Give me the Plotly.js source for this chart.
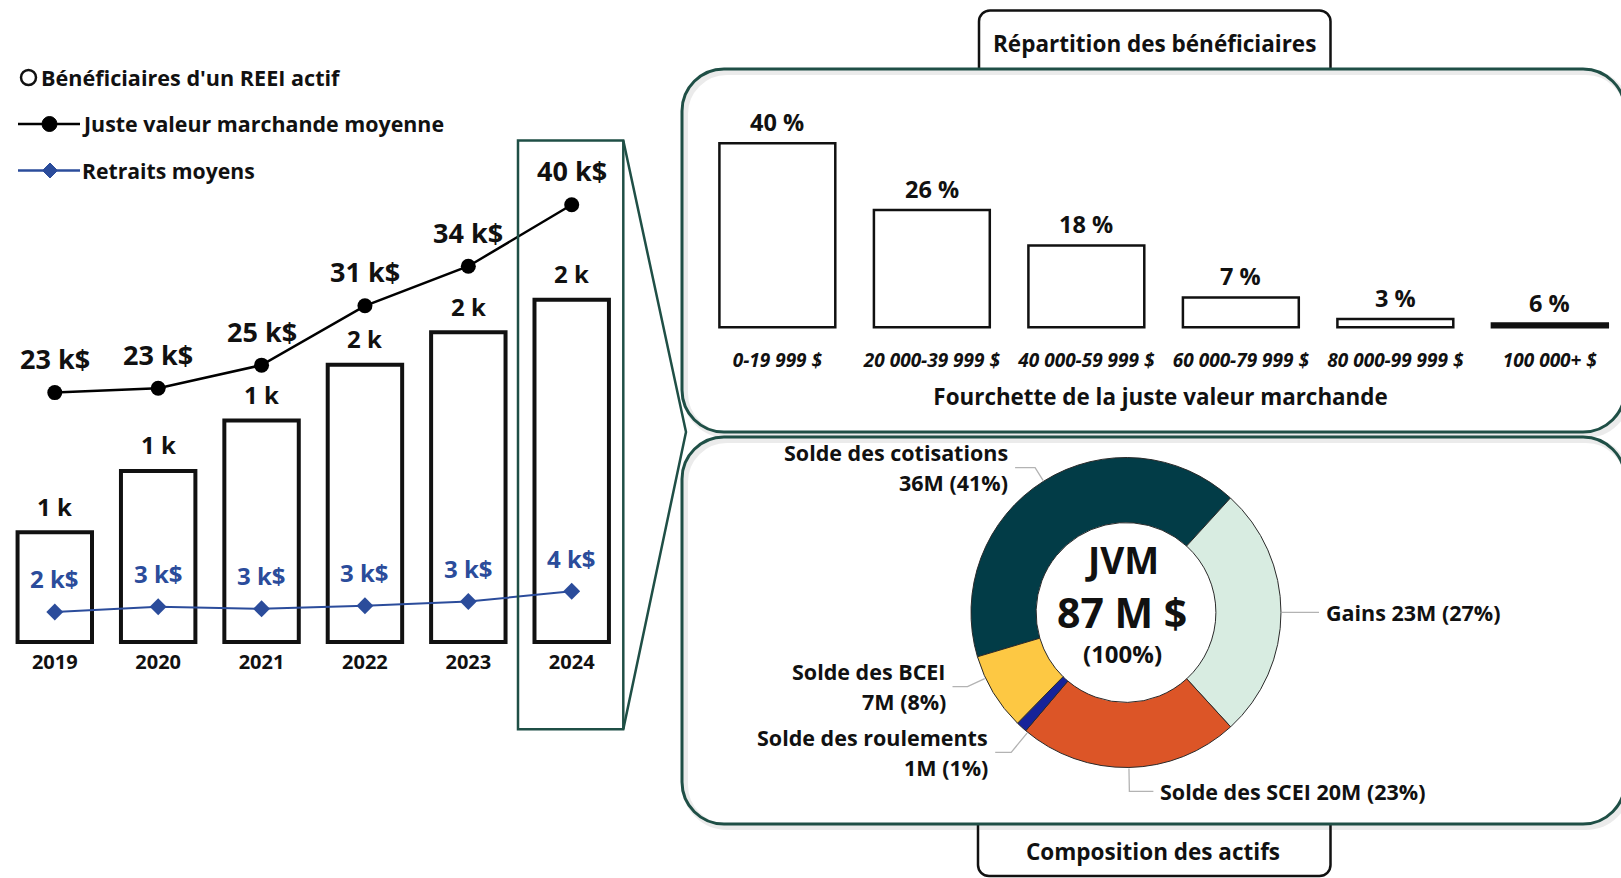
<!DOCTYPE html>
<html><head><meta charset="utf-8">
<script src="https://cdn.plot.ly/plotly-3.0.1.min.js"></script>
<style>html,body{margin:0;padding:0;background:#fff}#chart{width:1621px;height:878px}</style>
</head><body><div id="chart"></div>
<script>
// ---------- data ----------
const years = ['2019', '2020', '2021', '2022', '2023', '2024'];
const beneficiaries = [610, 950, 1230, 1540, 1720, 1900];
const beneficiaryLabels = ['1 k', '1 k', '1 k', '2 k', '2 k', '2 k'];
const avgFMV = [22.7, 23.1, 25.2, 30.6, 34.2, 39.8];
const avgFMVLabels = ['23 k$', '23 k$', '25 k$', '31 k$', '34 k$', '40 k$'];
const avgWithdrawals = [2.4, 2.68, 2.57, 2.73, 2.96, 3.51];
const avgWithdrawalLabels = ['2 k$', '3 k$', '3 k$', '3 k$', '3 k$', '4 k$'];
const seriesNames = ["Bénéficiaires d'un REEI actif", 'Juste valeur marchande moyenne', 'Retraits moyens'];

const fmvRanges = ['0-19 999 $', '20 000-39 999 $', '40 000-59 999 $', '60 000-79 999 $', '80 000-99 999 $', '100 000+ $'];
const rangeShares = [40, 25.5, 17.8, 6.5, 1.8, 0.8];
const rangeShareLabels = ['40 %', '26 %', '18 %', '7 %', '3 %', '6 %'];

const assetLabels = ['Solde des cotisations', 'Gains', 'Solde des SCEI', 'Solde des roulements', 'Solde des BCEI'];
const assetValues = [36, 23, 20, 1, 7];
const assetValueLabels = ['36M (41%)', '23M (27%)', '20M (23%)', '1M (1%)', '7M (8%)'];
const totalLines = ['JVM', '87 M $', '(100%)'];

const titleTop = 'Répartition des bénéficiaires';
const titleBottom = 'Composition des actifs';
const histAxisTitle = 'Fourchette de la juste valeur marchande';

// ---------- styles / geometry ----------
const W = 1621, H = 878;
const X = v => v / W, Y = v => 1 - v / H;
const FONT = 'Open Sans, Noto Sans, DejaVu Sans, sans-serif';
const GREEN = '#1f4f46';
const BLUE = '#2b4c9b';
const f = (size, color, extra) => Object.assign({family: FONT, size: size, color: color || '#111', weight: 700}, extra || {});
// axis calibration: value 0 at basePx, unitPx pixels per unit, domain top/bottom in px
const rng = (basePx, unitPx, topPx, botPx) => [(basePx - botPx) / unitPx, (basePx - topPx) / unitPx];

const L = {top: 130, bot: 646, x0: 3.1, x1: 623.4};
const HIST = {top: 100, bot: 333, x0: 700.1, x1: W};
const pie = {cx: 1126, cy: 612.5, R: 155, hole: 0.58, rotation: -106.6};
const pieColors = ['#023c47', '#d8ece1', '#dc5527', '#16239a', '#fdc843'];
const pieTwoLine = [true, false, false, true, true];
const pieElbow = [16, 16, 24, 26, 20];
const pieHoriz = [20, 22, 24, 16, 15];
const pieNudge = [0, 0, 0, -3, 6];

const traces = [
  {type: 'bar', x: years, y: beneficiaries, name: seriesNames[0], xaxis: 'x', yaxis: 'y', width: 0.72,
   marker: {color: '#fff', line: {color: '#111', width: 4}}, hoverinfo: 'x+y'},
  {type: 'scatter', mode: 'lines+markers', x: years, y: avgFMV, name: seriesNames[1], xaxis: 'x', yaxis: 'y2',
   line: {color: '#000', width: 2.5}, marker: {color: '#000', size: 15}},
  {type: 'scatter', mode: 'lines+markers', x: years, y: avgWithdrawals, name: seriesNames[2], xaxis: 'x', yaxis: 'y3',
   line: {color: BLUE, width: 2}, marker: {color: BLUE, size: 13, symbol: 'diamond'}},
  {type: 'bar', x: fmvRanges, y: rangeShares, xaxis: 'x2', yaxis: 'y4', width: 0.75,
   marker: {color: rangeShares.map((v, i) => i === rangeShares.length - 1 ? '#111' : '#fff'), line: {color: '#111', width: 2.5}}},
  {type: 'pie', labels: assetLabels, values: assetValues, hole: pie.hole, sort: false, direction: 'clockwise',
   rotation: pie.rotation, textinfo: 'none',
   marker: {colors: pieColors, line: {color: '#2a2a2a', width: 1}},
   domain: {x: [X(pie.cx - pie.R), X(pie.cx + pie.R)], y: [Y(pie.cy + pie.R), Y(pie.cy - pie.R)]}}
];

const annotations = [];
const ann = (o) => annotations.push(Object.assign({showarrow: false, xanchor: 'center', yanchor: 'middle'}, o));
// category axes take the serial index of the category for annotations
years.forEach((yr, i) => {
  ann({xref: 'x', yref: 'y', x: i, y: beneficiaries[i], text: beneficiaryLabels[i], yshift: 26, font: f(24)});
  ann({xref: 'x', yref: 'y2', x: i, y: avgFMV[i], text: avgFMVLabels[i], yshift: 34, font: f(27)});
  ann({xref: 'x', yref: 'y3', x: i, y: avgWithdrawals[i], text: avgWithdrawalLabels[i], yshift: 33, font: f(24, BLUE)});
});
fmvRanges.forEach((c, i) => {
  ann({xref: 'x2', yref: 'y4', x: i, y: rangeShares[i], text: rangeShareLabels[i], yshift: 21, font: f(23.5)});
});

// legend (manual)
const shapes = [];
const legendRows = [77.5, 124, 170.5];
shapes.push({type: 'circle', xref: 'paper', yref: 'paper', x0: X(21), x1: X(36), y0: Y(legendRows[0] + 7.5), y1: Y(legendRows[0] - 7.5), line: {color: '#111', width: 2.5}});
ann({xref: 'paper', yref: 'paper', x: X(39), y: Y(legendRows[0]), xanchor: 'left', text: seriesNames[0], font: f(21.6)});
shapes.push({type: 'line', xref: 'paper', yref: 'paper', x0: X(18), x1: X(80), y0: Y(legendRows[1]), y1: Y(legendRows[1]), line: {color: '#000', width: 2.5}});
shapes.push({type: 'circle', xref: 'paper', yref: 'paper', x0: X(42), x1: X(57), y0: Y(legendRows[1] + 7.5), y1: Y(legendRows[1] - 7.5), fillcolor: '#000', line: {color: '#000', width: 1}});
ann({xref: 'paper', yref: 'paper', x: X(80), y: Y(legendRows[1]), xanchor: 'left', text: seriesNames[1], font: f(21.4)});
shapes.push({type: 'line', xref: 'paper', yref: 'paper', x0: X(18), x1: X(80), y0: Y(legendRows[2]), y1: Y(legendRows[2]), line: {color: BLUE, width: 2.5}});
{
  const cx = 50, cy = legendRows[2], d = 7.5;
  shapes.push({type: 'path', xref: 'paper', yref: 'paper', path: `M${X(cx - d)},${Y(cy)} L${X(cx)},${Y(cy - d)} L${X(cx + d)},${Y(cy)} L${X(cx)},${Y(cy + d)} Z`, fillcolor: BLUE, line: {color: BLUE, width: 1}});
}
ann({xref: 'paper', yref: 'paper', x: X(80), y: Y(legendRows[2]), xanchor: 'left', text: seriesNames[2], font: f(21.2)});

// frames
const P = (x, y) => `${X(x)},${Y(y)}`;
const K = 0.5523;
function rr(x0, y0, x1, y1, r) {
  const k = r * (1 - K);
  return `M${P(x0 + r, y0)} L${P(x1 - r, y0)} C${P(x1 - k, y0)} ${P(x1, y0 + k)} ${P(x1, y0 + r)} L${P(x1, y1 - r)} C${P(x1, y1 - k)} ${P(x1 - k, y1)} ${P(x1 - r, y1)} L${P(x0 + r, y1)} C${P(x0 + k, y1)} ${P(x0, y1 - k)} ${P(x0, y1 - r)} L${P(x0, y0 + r)} C${P(x0, y0 + k)} ${P(x0 + k, y0)} ${P(x0 + r, y0)} Z`;
}
function tabTop(x0, x1, y0, y1, r) {
  const k = r * (1 - K);
  return `M${P(x0, y1)} L${P(x0, y0 + r)} C${P(x0, y0 + k)} ${P(x0 + k, y0)} ${P(x0 + r, y0)} L${P(x1 - r, y0)} C${P(x1 - k, y0)} ${P(x1, y0 + k)} ${P(x1, y0 + r)} L${P(x1, y1)}`;
}
function tabBot(x0, x1, y0, y1, r) {
  const k = r * (1 - K);
  return `M${P(x0, y0)} L${P(x0, y1 - r)} C${P(x0, y1 - k)} ${P(x0 + k, y1)} ${P(x0 + r, y1)} L${P(x1 - r, y1)} C${P(x1 - k, y1)} ${P(x1, y1 - k)} ${P(x1, y1 - r)} L${P(x1, y0)}`;
}
const shadow = {color: 'rgba(0,0,0,0.08)', width: 6};
shapes.push({type: 'path', xref: 'paper', yref: 'paper', path: rr(685, 72, 1628, 435, 42), line: shadow});
shapes.push({type: 'path', xref: 'paper', yref: 'paper', path: rr(685, 440, 1628, 827, 42), line: shadow});
shapes.push({type: 'path', xref: 'paper', yref: 'paper', path: tabTop(979, 1330.5, 10.5, 68, 11), line: {color: '#111', width: 2.5}});
shapes.push({type: 'path', xref: 'paper', yref: 'paper', path: tabBot(978, 1330.5, 825, 876, 11), line: {color: '#111', width: 2.5}});
shapes.push({type: 'path', xref: 'paper', yref: 'paper', path: rr(682, 69, 1625, 432, 42), line: {color: GREEN, width: 3}});
shapes.push({type: 'path', xref: 'paper', yref: 'paper', path: rr(682, 437, 1625, 824, 42), line: {color: GREEN, width: 3}});
// highlight of 2024 + funnel to the detail panels
shapes.push({type: 'path', xref: 'paper', yref: 'paper', path: `M${P(518, 140.5)} L${P(623.3, 140.5)} L${P(686, 432)} L${P(623.3, 729.3)} L${P(518, 729.3)} Z`, line: {color: GREEN, width: 2.5}});
shapes.push({type: 'line', xref: 'paper', yref: 'paper', x0: X(623.3), x1: X(623.3), y0: Y(140.5), y1: Y(729.3), line: {color: GREEN, width: 2.5}});

ann({xref: 'paper', yref: 'paper', x: X(1154.8), y: Y(43.5), text: titleTop, font: f(22.5)});
ann({xref: 'paper', yref: 'paper', x: X(1153), y: Y(851), text: titleBottom, font: f(22.5)});

// donut centre text
ann({xref: 'paper', yref: 'paper', x: X(pie.cx - 4), y: Y(pie.cy - 53), text: totalLines[0], font: f(37)});
ann({xref: 'paper', yref: 'paper', x: X(pie.cx - 4), y: Y(pie.cy - 1), text: totalLines[1], font: f(41)});
ann({xref: 'paper', yref: 'paper', x: X(pie.cx - 4), y: Y(pie.cy + 41), text: totalLines[2], font: f(24)});

// donut labels with leader lines, positioned from the slice angles
{
  const total = assetValues.reduce((a, b) => a + b, 0);
  let cum = 0;
  assetValues.forEach((v, i) => {
    const mid = pie.rotation + (cum + v / 2) / total * 360 + pieNudge[i];
    cum += v;
    const a = mid * Math.PI / 180;
    const dx = Math.sin(a), dy = -Math.cos(a);
    const p0 = [pie.cx + (pie.R + 1) * dx, pie.cy + (pie.R + 1) * dy];
    const p1 = [pie.cx + (pie.R + pieElbow[i]) * dx, pie.cy + (pie.R + pieElbow[i]) * dy];
    const side = dx >= 0 ? 1 : -1;
    const p2 = [p1[0] + side * pieHoriz[i], p1[1]];
    shapes.push({type: 'path', xref: 'paper', yref: 'paper', path: `M${P(p0[0], p0[1])} L${P(p1[0], p1[1])} L${P(p2[0], p2[1])}`, line: {color: '#b3b3b3', width: 1.3}});
    const tx = X(p2[0] + side * 5);
    const xa = side > 0 ? 'left' : 'right';
    if (pieTwoLine[i]) {
      ann({xref: 'paper', yref: 'paper', x: tx, y: Y(p2[1] - 15), xanchor: xa, text: assetLabels[i], font: f(21.5)});
      ann({xref: 'paper', yref: 'paper', x: tx, y: Y(p2[1] + 15), xanchor: xa, text: assetValueLabels[i], font: f(21.5)});
    } else {
      ann({xref: 'paper', yref: 'paper', x: tx, y: Y(p2[1]), xanchor: xa, text: assetLabels[i] + ' ' + assetValueLabels[i], font: f(21.5)});
    }
  });
}

const layout = {
  width: W, height: H, margin: {l: 0, r: 0, t: 0, b: 0}, paper_bgcolor: '#fff', plot_bgcolor: 'rgba(0,0,0,0)',
  showlegend: false, bargap: 0,
  xaxis: {domain: [X(L.x0), X(L.x1)], range: [-0.5, 5.5], type: 'category', anchor: 'y', showgrid: false, zeroline: false,
          showline: false, ticks: '', tickfont: f(20), ticklabelstandoff: 2, fixedrange: true},
  yaxis: {domain: [Y(L.bot), Y(L.top)], range: rng(642, 342.2 / 1900, L.top, L.bot), visible: false},
  yaxis2: {overlaying: 'y', range: rng(642, 10.987, L.top, L.bot), visible: false},
  yaxis3: {overlaying: 'y', range: rng(656.6, 18.6, L.top, L.bot), visible: false},
  xaxis2: {domain: [X(HIST.x0), 1], range: [-0.5, -0.5 + (HIST.x1 - HIST.x0) / 154.5], type: 'category', anchor: 'y4',
           showgrid: false, zeroline: false, showline: false, ticks: '', ticklabelstandoff: 14,
           tickfont: f(19, '#111', {style: 'italic'}),
           title: {text: histAxisTitle, font: f(22.4), standoff: 17}},
  yaxis4: {domain: [Y(HIST.bot), Y(HIST.top)], range: rng(327.3, 4.6, HIST.top, HIST.bot), anchor: 'x2', visible: false},
  annotations: annotations,
  shapes: shapes
};

Plotly.newPlot('chart', traces, layout, {displayModeBar: false, staticPlot: true});
</script>
</body></html>
